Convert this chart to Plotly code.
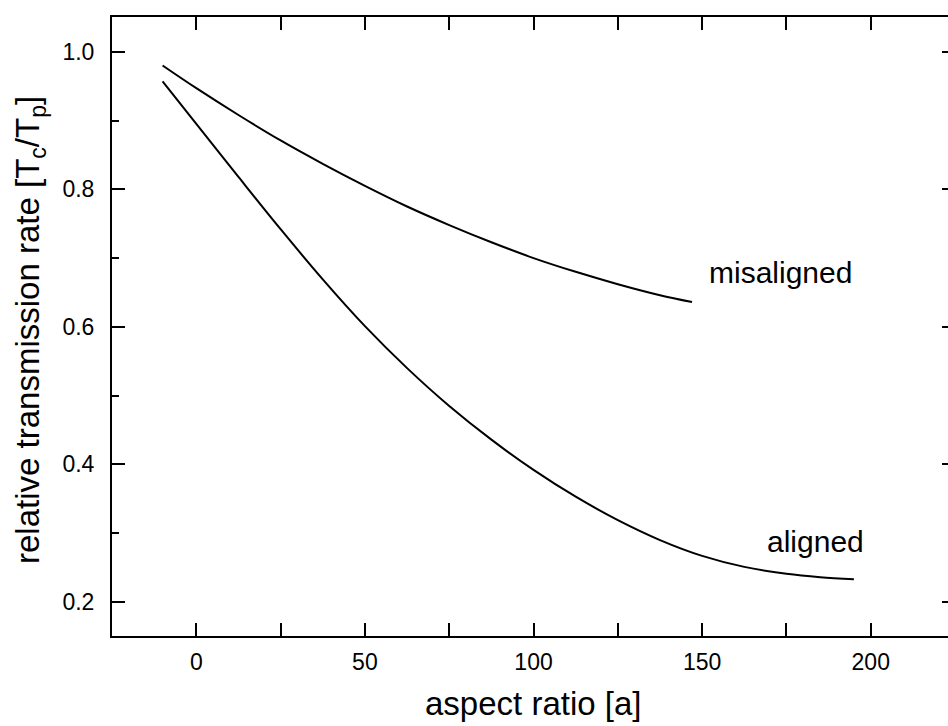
import plotly.graph_objects as go

# aspect ratio values and relative transmission rates
misaligned_x = [-10, 0, 12.5, 25, 37.5, 50, 62.5, 75, 87.5, 100, 112.5, 125, 137.5, 147]
misaligned_y = [0.980, 0.947, 0.908, 0.871, 0.837, 0.805, 0.775, 0.748, 0.723, 0.700, 0.680, 0.662, 0.646, 0.636]

aligned_x = [-10, 0, 12.5, 25, 37.5, 50, 62.5, 75, 87.5, 100, 112.5, 125, 137.5, 150, 162.5, 175, 185, 195]
aligned_y = [0.957, 0.895, 0.818, 0.742, 0.669, 0.601, 0.540, 0.485, 0.436, 0.392, 0.353, 0.319, 0.290, 0.267, 0.251, 0.241, 0.236, 0.233]

labels = ["misaligned", "aligned"]
label_x = [151.5, 168.7]
label_y = [0.679, 0.288]

x_range = [-25, 222.9]
y_range = [0.1505, 1.0505]

FONT = "Liberation Sans, Arial, sans-serif"

fig = go.Figure()
fig.add_trace(go.Scatter(x=misaligned_x, y=misaligned_y, mode="lines",
                         line=dict(color="black", width=2, shape="spline", smoothing=1),
                         showlegend=False, hoverinfo="skip"))
fig.add_trace(go.Scatter(x=aligned_x, y=aligned_y, mode="lines",
                         line=dict(color="black", width=2, shape="spline", smoothing=1),
                         showlegend=False, hoverinfo="skip"))
# invisible trace to activate the right-hand tick axis
fig.add_trace(go.Scatter(x=[None], y=[None], yaxis="y2", showlegend=False, hoverinfo="skip"))

for t, lx, ly in zip(labels, label_x, label_y):
    fig.add_annotation(x=lx, y=ly, text=t, showarrow=False, xanchor="left", yanchor="middle",
                       font=dict(family=FONT, size=30, color="black"))

W, H = 948, 726
L, T, B = 112, 17, 90
pw, ph = W - L, H - T - B
fig.add_annotation(xref="paper", yref="paper", x=(533 - L) / pw, y=(H - B - 703) / ph,
                   text="aspect ratio [a]", showarrow=False, xanchor="center", yanchor="middle",
                   font=dict(family=FONT, size=33, color="black"))
fig.add_annotation(xref="paper", yref="paper", x=(30 - L) / pw, y=(H - B - 330) / ph,
                   text="relative transmission rate [T<sub>c</sub>/T<sub>p</sub>]", showarrow=False,
                   textangle=-90, xanchor="center", yanchor="middle",
                   font=dict(family=FONT, size=33, color="black"))

fig.update_layout(
    width=W, height=H,
    margin=dict(l=L, r=0, t=T, b=B),
    paper_bgcolor="white", plot_bgcolor="white",
    font=dict(family=FONT, color="black"),
    xaxis=dict(range=x_range, dtick=50, tick0=0, showgrid=False, zeroline=False,
               showline=True, linecolor="black", linewidth=2, mirror="allticks",
               ticks="inside", ticklen=13, tickwidth=2, tickcolor="black",
               minor=dict(dtick=25, tick0=0, ticks="inside", ticklen=7, tickwidth=2, tickcolor="black"),
               tickfont=dict(family=FONT, size=23, color="black"), ticklabelstandoff=4),
    yaxis=dict(range=y_range, dtick=0.2, tick0=0.2, tickformat=".1f", showgrid=False, zeroline=False,
               showline=True, linecolor="black", linewidth=2, mirror=False,
               ticks="inside", ticklen=13, tickwidth=2, tickcolor="black",
               minor=dict(dtick=0.1, tick0=0.2, ticks="inside", ticklen=7, tickwidth=2, tickcolor="black"),
               tickfont=dict(family=FONT, size=23, color="black"), ticklabelstandoff=11),
    yaxis2=dict(range=y_range, overlaying="y", side="right", anchor="free", position=1,
                dtick=0.2, tick0=0.2, showgrid=False, zeroline=False, showline=False,
                ticks="inside", ticklen=6, tickwidth=2, tickcolor="black", showticklabels=False),
)

fig.write_html("out.html", config={"displayModeBar": False},
               post_script="document.body.style.margin='0';document.body.style.overflow='hidden';")
